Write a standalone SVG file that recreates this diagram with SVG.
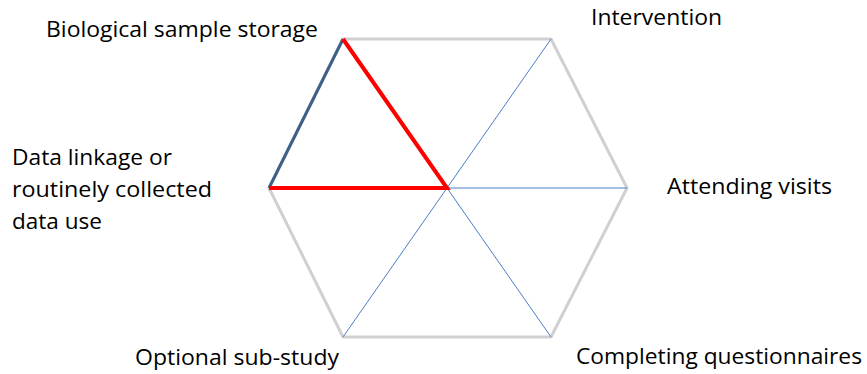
<svg xmlns="http://www.w3.org/2000/svg" width="867" height="374" viewBox="0 0 867 374">
<style>
.lbl{font-family:"Open Sans","Liberation Sans",sans-serif;font-size:22.5px;fill:#000}
.rim{stroke:#d0d0d0;stroke-width:3;fill:none;stroke-linejoin:round}
.spoke{stroke:#4a7ec4;stroke-width:1;fill:none}
.hl{stroke:#ff0000;stroke-width:4;fill:none;stroke-linejoin:miter}
.dark{stroke:#3e5f8a;stroke-width:3;fill:none}
</style>
<rect width="867" height="374" fill="#fff"/>
<g id="connectors">
<polygon class="rim" points="343,39 551,39 627,188 551,337 343,337 269,188"/>
<line class="spoke" x1="447" y1="188" x2="551" y2="39"/>
<line class="spoke" x1="447" y1="188" x2="627" y2="188"/>
<line class="spoke" x1="447" y1="188" x2="551" y2="337"/>
<line class="spoke" x1="447" y1="188" x2="343" y2="337"/>
<line class="dark" x1="343" y1="39" x2="269" y2="188"/>
<polyline class="hl" points="343,39 447,188 269,188"/>
</g>
<g id="n-bio"><text class="lbl" x="46" y="37" textLength="272" lengthAdjust="spacingAndGlyphs">Biological sample storage</text></g>
<g id="n-int"><text class="lbl" x="591" y="25" textLength="131" lengthAdjust="spacingAndGlyphs">Intervention</text></g>
<g id="n-data"><text class="lbl" x="12" y="165" textLength="160" lengthAdjust="spacingAndGlyphs">Data linkage or</text><text class="lbl" x="12" y="197" textLength="200" lengthAdjust="spacingAndGlyphs">routinely collected</text><text class="lbl" x="12" y="229" textLength="90" lengthAdjust="spacingAndGlyphs">data use</text></g>
<g id="n-att"><text class="lbl" x="667" y="194" textLength="165" lengthAdjust="spacingAndGlyphs">Attending visits</text></g>
<g id="n-opt"><text class="lbl" x="135" y="365" textLength="204" lengthAdjust="spacingAndGlyphs">Optional sub-study</text></g>
<g id="n-comp"><text class="lbl" x="576" y="364" textLength="286" lengthAdjust="spacingAndGlyphs">Completing questionnaires</text></g>
</svg>
